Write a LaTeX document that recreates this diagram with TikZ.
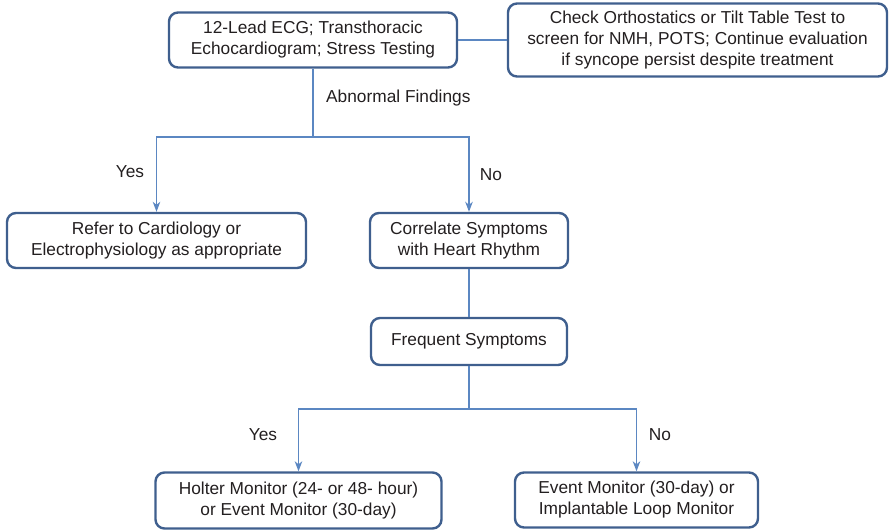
\documentclass[tikz,border=0pt]{standalone}
\usepackage{fontspec}
\setmainfont{Liberation Sans}
\usetikzlibrary{arrows.meta}
\definecolor{boxblue}{HTML}{3F5F8E}
\definecolor{linkblue}{HTML}{5B87C2}
\definecolor{ink}{HTML}{231F20}
\begin{document}
\begin{tikzpicture}[x=1pt,y=-1pt,
  flowbox/.style={draw=boxblue, line width=2.4pt, rounded corners=9pt, fill=white,
    align=center, inner sep=0pt, text=ink,
    font=\fontsize{17.3}{21}\selectfont},
  link/.style={draw=linkblue, line width=1.3pt},
  arrowlink/.style={link, -{Stealth[length=10pt,width=7.5pt,inset=3pt]}},
  tag/.style={text=ink, font=\fontsize{17.3}{20}\selectfont, inner sep=0pt}]
  \useasboundingbox (0,0) rectangle (890,531);

  % boxes
  \node[flowbox, minimum width=288pt, minimum height=55pt] (ecg) at (313,40)
    {12-Lead ECG; Transthoracic\\Echocardiogram; Stress Testing};
  \node[flowbox, minimum width=379pt, minimum height=73pt] (tilt) at (697.5,40)
    {Check Orthostatics or Tilt Table Test to\\screen for NMH, POTS; Continue evaluation\\if syncope persist despite treatment};
  \node[flowbox, minimum width=299pt, minimum height=55pt] (cardio) at (156.5,240.5)
    {Refer to Cardiology or\\Electrophysiology as appropriate};
  \node[flowbox, minimum width=198pt, minimum height=55pt] (corr) at (469,240.5)
    {Correlate Symptoms\\with Heart Rhythm};
  \node[flowbox, minimum width=196pt, minimum height=47pt] (freq) at (469,341.5)
    {Frequent Symptoms};
  \node[flowbox, minimum width=286pt, minimum height=56pt] (holter) at (298.5,500.5)
    {Holter Monitor (24- or 48- hour)\\or Event Monitor (30-day)};
  \node[flowbox, minimum width=243pt, minimum height=55pt] (event) at (636.5,500)
    {Event Monitor (30-day) or\\Implantable Loop Monitor};

  % junctions
  \coordinate (j1) at (313,137);
  \coordinate (j2) at (469,409);

  % connectors
  \draw[link] (ecg.east) -- (tilt.west);
  \draw[link] (ecg.south) -- (j1);
  \draw[arrowlink] (j1) -| (cardio.north);
  \draw[arrowlink] (j1) -| (corr.north);
  \draw[link] (corr.south) -- (freq.north);
  \draw[link] (freq.south) -- (j2);
  \draw[arrowlink] (j2) -| (holter.north);
  \draw[arrowlink] (j2) -| (event.north);

  % labels
  \node[tag, anchor=west] (abn) at (326,98) {Abnormal Findings};
  \node[tag] (yes1) at (130,172) {Yes};
  \node[tag] (no1) at (491,175) {No};
  \node[tag] (yes2) at (263,435) {Yes};
  \node[tag] (no2) at (660,435) {No};
\end{tikzpicture}
\end{document}
